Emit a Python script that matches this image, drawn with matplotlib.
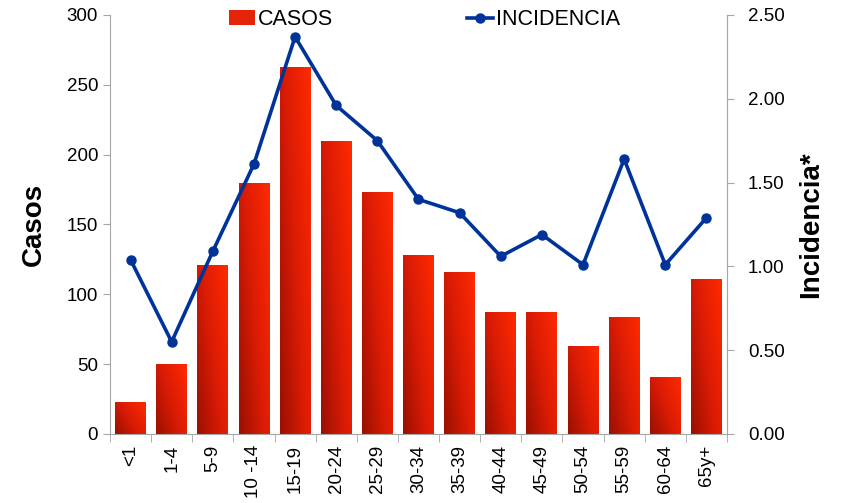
import numpy as np
import matplotlib.pyplot as plt
from matplotlib.colors import LinearSegmentedColormap
from matplotlib.patches import Patch

plt.rcParams['font.family'] = ['Liberation Sans', 'DejaVu Sans']

grupos = ['<1', '1-4', '5-9', '10 -14', '15-19', '20-24', '25-29', '30-34',
          '35-39', '40-44', '45-49', '50-54', '55-59', '60-64', '65y+']
casos = [23, 50, 121, 180, 263, 210, 173, 128, 116, 87, 87, 63, 84, 41, 111]
incidencia = [1.04, 0.55, 1.09, 1.61, 2.37, 1.96, 1.75, 1.40, 1.32, 1.06,
              1.19, 1.01, 1.64, 1.01, 1.29]

fig = plt.figure(figsize=(8.42, 5.03), dpi=100)
ax = fig.add_axes([0.1306, 0.1372, 0.7328, 0.8330])

x = np.arange(len(grupos))
bars = ax.bar(x, casos, width=0.75, color='none', edgecolor='none', zorder=2)

# gradient fill: dark red lower-left to bright orange-red upper-right
cmap = LinearSegmentedColormap.from_list('rojo', ['#9a1000', '#dc1c05', '#ff2a00'])
grad = np.add.outer(np.linspace(0, 1, 50) * 0.8, np.linspace(0, 1, 50) * 1.2) / 2
for b in bars:
    x0, y0 = b.get_x(), b.get_y()
    w, h = b.get_width(), b.get_height()
    im = ax.imshow(grad, cmap=cmap, extent=[x0, x0 + w, y0, y0 + h],
                   origin='lower', aspect='auto', zorder=2, vmin=0, vmax=1)
    im.set_clip_path(b)

ax.set_xlim(-0.5, len(grupos) - 0.5)
ax.set_ylim(0, 300)
ax.set_yticks(range(0, 301, 50))
ax.set_xticks(x)
ax.set_xticklabels(grupos, rotation=90, fontsize=13.5)
ax.set_xticks(np.arange(-0.5, len(grupos), 1), minor=True)
ax.tick_params(axis='x', which='major', length=0, pad=8)
ax.tick_params(axis='x', which='minor', length=6, color='#a6a6a6')
ax.tick_params(axis='y', labelsize=13.5, color='#a6a6a6', length=5)
ax.set_ylabel('Casos', fontsize=20, fontweight='bold', labelpad=14)
ax.spines['top'].set_visible(False)
for s in ['left', 'bottom', 'right']:
    ax.spines[s].set_color('#a6a6a6')

ax2 = ax.twinx()
ax2.plot(x, incidencia, color='#003399', lw=2.6, marker='o', markersize=6.5,
         zorder=3, label='INCIDENCIA')
ax2.set_ylim(0, 2.5)
ax2.set_yticks(np.arange(0, 2.51, 0.5))
ax2.set_yticklabels([f'{v:.2f}' for v in np.arange(0, 2.51, 0.5)])
ax2.tick_params(axis='y', labelsize=13.5, color='#a6a6a6', length=5, pad=10)
ax2.set_ylabel('Incidencia*', fontsize=20, fontweight='bold', labelpad=10)
ax2.spines['top'].set_visible(False)
ax2.spines['left'].set_visible(False)
ax2.spines['bottom'].set_visible(False)
ax2.spines['right'].set_color('#a6a6a6')

h2, l2 = ax2.get_legend_handles_labels()
casos_patch = Patch(facecolor='#e3230a', label='CASOS')
ax2.legend([casos_patch] + h2, ['CASOS'] + l2, loc='upper center',
           bbox_to_anchor=(0.51, 1.06), ncol=2, frameon=False, fontsize=15.5,
           columnspacing=6.2, handlelength=1.2, handletextpad=0.15)

fig.savefig('out.png', dpi=100)
